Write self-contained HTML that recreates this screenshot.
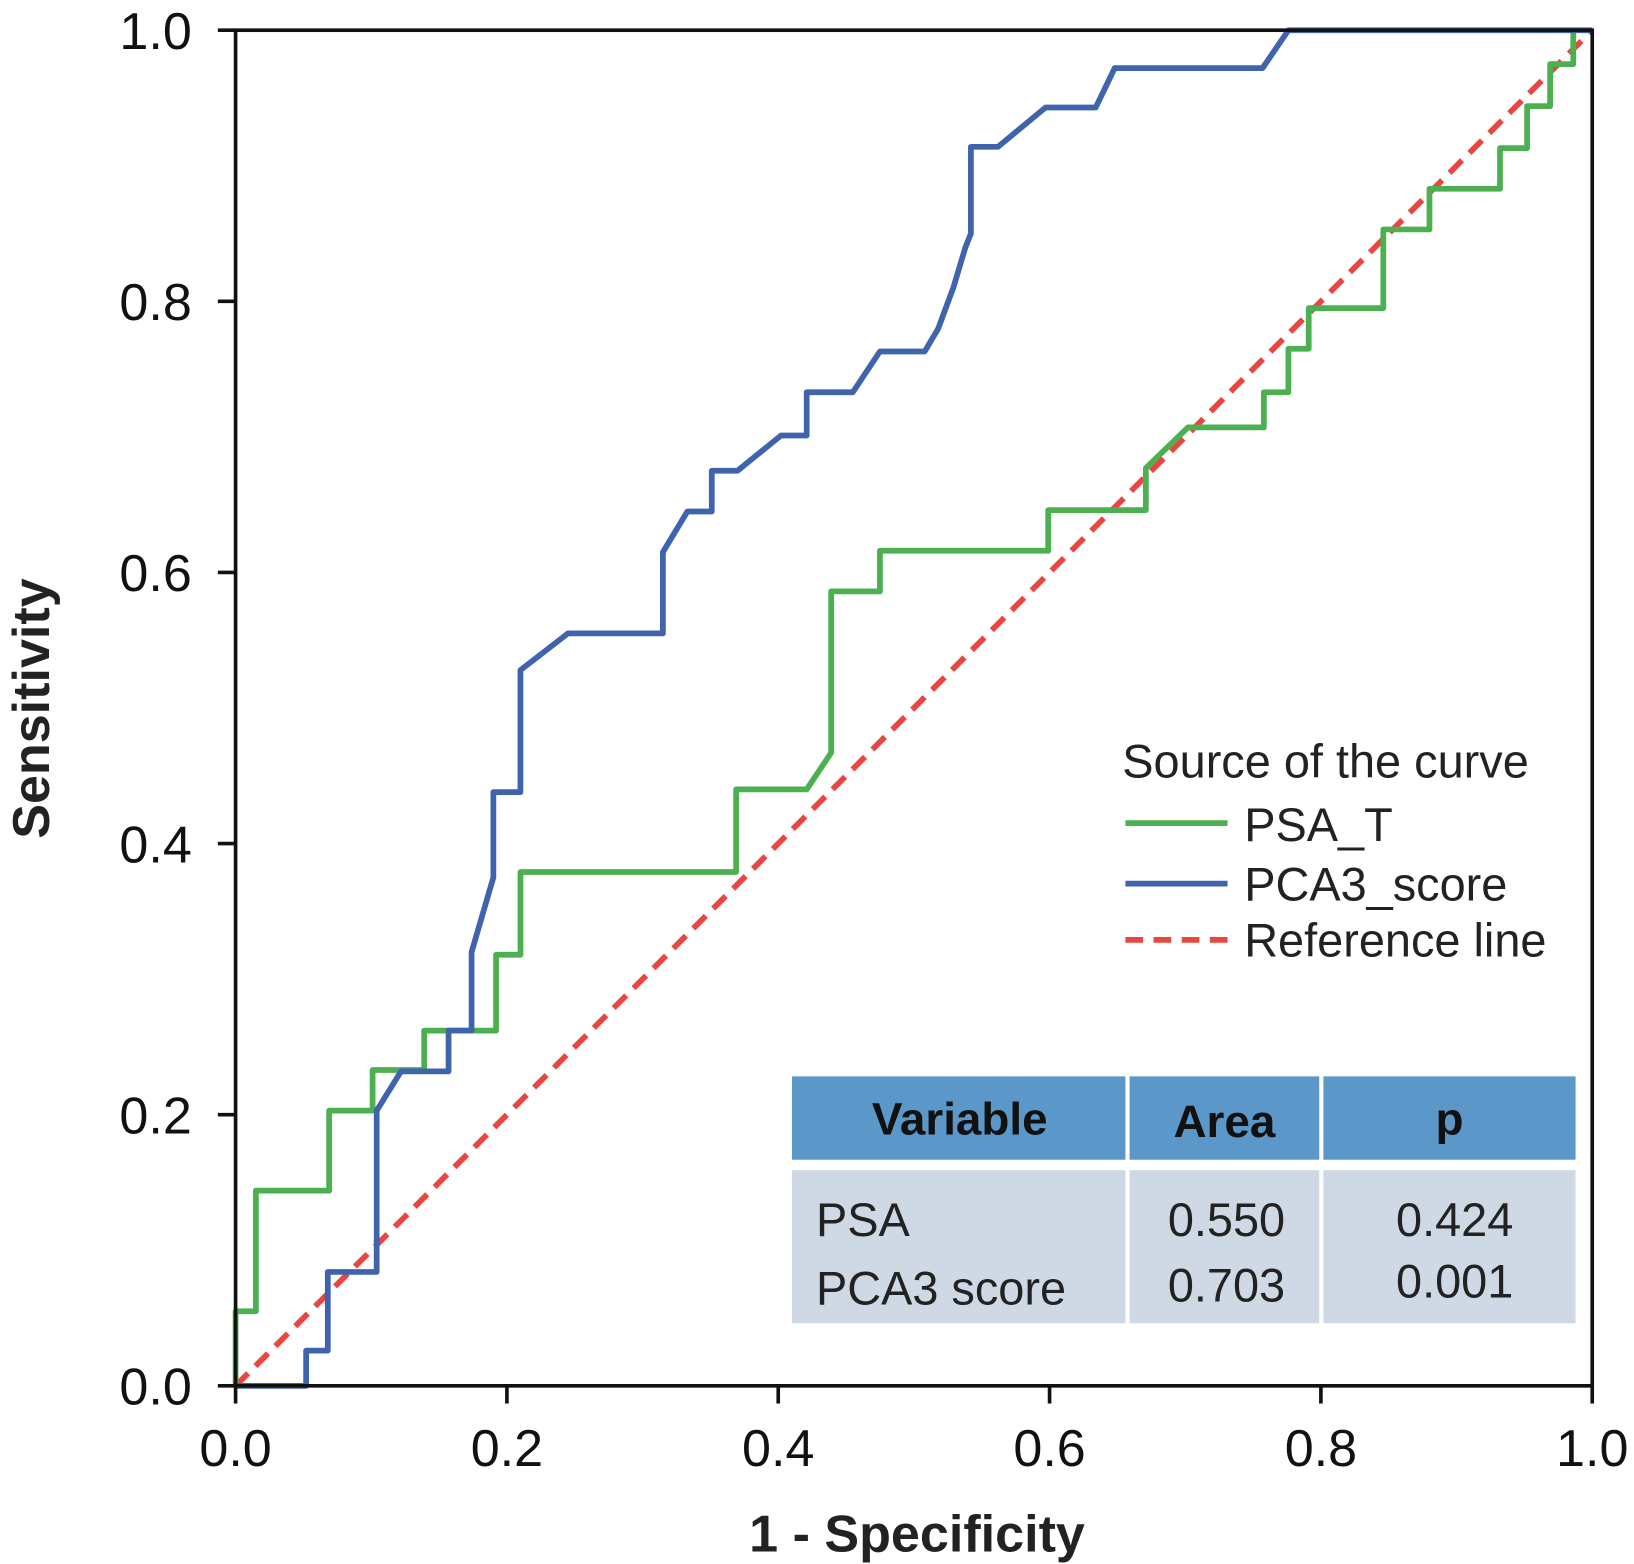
<!DOCTYPE html>
<html><head><meta charset="utf-8"><style>html,body{margin:0;padding:0;background:#fff}svg{display:block}</style></head>
<body>
<svg id="chart" width="1634" height="1564" viewBox="0 0 1568 1501" xmlns="http://www.w3.org/2000/svg" font-family="Liberation Sans, Arial, sans-serif">
<g id="series"></g>
<g id="axes"></g>
<g>
<text x="1077" y="746" font-size="45" fill="#222">Source of the curve</text>
<line x1="1080" y1="790" x2="1178" y2="790" stroke="#4caf50" stroke-width="5.5"/>
<text x="1194" y="807" font-size="45" fill="#222">PSA_T</text>
<line x1="1080" y1="848" x2="1178" y2="848" stroke="#3f63ad" stroke-width="5.5"/>
<text x="1194" y="864" font-size="45" fill="#222">PCA3_score</text>
<line x1="1080" y1="902" x2="1178" y2="902" stroke="#e8463f" stroke-width="5.5" stroke-dasharray="17,10"/>
<text x="1194" y="918" font-size="45" fill="#222">Reference line</text>
</g>
<g>
<rect x="760" y="1033" width="320" height="80" fill="#5b97c9"/>
<rect x="1084" y="1033" width="182" height="80" fill="#5b97c9"/>
<rect x="1270" y="1033" width="242" height="80" fill="#5b97c9"/>
<rect x="760" y="1123" width="320" height="147" fill="#cfd9e5"/>
<rect x="1084" y="1123" width="182" height="147" fill="#cfd9e5"/>
<rect x="1270" y="1123" width="242" height="147" fill="#cfd9e5"/>
<g font-size="44" fill="#111" font-weight="bold" text-anchor="middle">
<text x="921" y="1089">Variable</text>
<text x="1175" y="1091">Area</text>
<text x="1391" y="1089">p</text>
</g>
<g font-size="45" fill="#222">
<text x="783" y="1186">PSA</text>
<text x="783" y="1252">PCA3 score</text>
<text x="1177" y="1186" text-anchor="middle">0.550</text>
<text x="1177" y="1249" text-anchor="middle">0.703</text>
<text x="1396" y="1186" text-anchor="middle">0.424</text>
<text x="1396" y="1245" text-anchor="middle">0.001</text>
</g>
</g>
<text x="880" y="1489" font-size="50" font-weight="bold" text-anchor="middle" fill="#222">1 - Specificity</text>
<text transform="translate(47,680) rotate(-90)" font-size="50" font-weight="bold" text-anchor="middle" fill="#222">Sensitivity</text>
<script>
const ticks = [0, 0.2, 0.4, 0.6, 0.8, 1.0];
const tickLabels = ["0.0","0.2","0.4","0.6","0.8","1.0"];
const psaX = [0,0,0.015,0.015,0.069,0.069,0.101,0.101,0.139,0.139,0.192,0.192,0.21,0.21,0.369,0.369,0.421,0.439,0.439,0.475,0.475,0.599,0.599,0.671,0.671,0.702,0.758,0.758,0.776,0.776,0.791,0.791,0.846,0.846,0.880,0.880,0.932,0.932,0.952,0.952,0.969,0.969,0.986,0.986];
const psaY = [0,0.055,0.055,0.144,0.144,0.203,0.203,0.233,0.233,0.262,0.262,0.318,0.318,0.379,0.379,0.44,0.44,0.467,0.586,0.586,0.616,0.616,0.646,0.646,0.677,0.707,0.707,0.733,0.733,0.765,0.765,0.795,0.795,0.853,0.853,0.883,0.883,0.913,0.913,0.944,0.944,0.975,0.975,1.0];
const pcaX = [0,0.052,0.052,0.068,0.068,0.104,0.104,0.122,0.157,0.157,0.174,0.174,0.190,0.190,0.210,0.210,0.245,0.315,0.315,0.333,0.351,0.351,0.370,0.402,0.421,0.421,0.455,0.475,0.508,0.518,0.529,0.538,0.542,0.542,0.562,0.597,0.634,0.648,0.757,0.776,1.0];
const pcaY = [0,0,0.026,0.026,0.084,0.084,0.203,0.232,0.232,0.262,0.262,0.32,0.375,0.438,0.438,0.528,0.555,0.555,0.615,0.645,0.645,0.675,0.675,0.701,0.701,0.733,0.733,0.763,0.763,0.78,0.81,0.84,0.85,0.914,0.914,0.943,0.943,0.972,0.972,1.0,1.0];
const refX = [0,1];
const refY = [0,1];
const L=226,R=1528,T=29,B=1330;
const sx=v=>L+v*(R-L), sy=v=>B-v*(B-T);
const NS="http://www.w3.org/2000/svg";
const ser=document.getElementById('series'), ax=document.getElementById('axes');
function mk(tag,attrs,parent){const e=document.createElementNS(NS,tag);for(const k in attrs)e.setAttribute(k,attrs[k]);parent.appendChild(e);return e;}
function pts(xs,ys){return xs.map((x,i)=>sx(x).toFixed(1)+','+sy(ys[i]).toFixed(1)).join(' ');}
let p=mk('polyline',{points:pts(refX,refY),fill:'none',stroke:'#e8463f','stroke-width':5.5,'stroke-dasharray':'17,10'},ser);


p=mk('polyline',{points:pts(psaX,psaY),fill:'none',stroke:'#4caf50','stroke-width':5.5,'stroke-linejoin':'round'},ser);


p=mk('polyline',{points:pts(pcaX,pcaY),fill:'none',stroke:'#3f63ad','stroke-width':5.5,'stroke-linejoin':'round'},ser);


const f=mk('rect',{x:L,y:T,width:R-L,height:B-T,fill:'none',stroke:'#111','stroke-width':3.5},ax);


ticks.forEach((t,i)=>{
  let a=mk('line',{x1:sx(t),x2:sx(t),y1:B,y2:B+17,stroke:'#111','stroke-width':3.5},ax);
  
  
  let b=mk('text',{x:sx(t),y:B+77,'font-size':50,'text-anchor':'middle',fill:'#111'},ax);b.textContent=tickLabels[i];
  
  
  let c=mk('line',{x1:L-17,x2:L,y1:sy(t),y2:sy(t),stroke:'#111','stroke-width':3.5},ax);
  
  
  let d=mk('text',{x:184,y:sy(t)+18,'font-size':50,'text-anchor':'end',fill:'#111'},ax);d.textContent=tickLabels[i];
  
  
});
</script>
</svg>
</body></html>
